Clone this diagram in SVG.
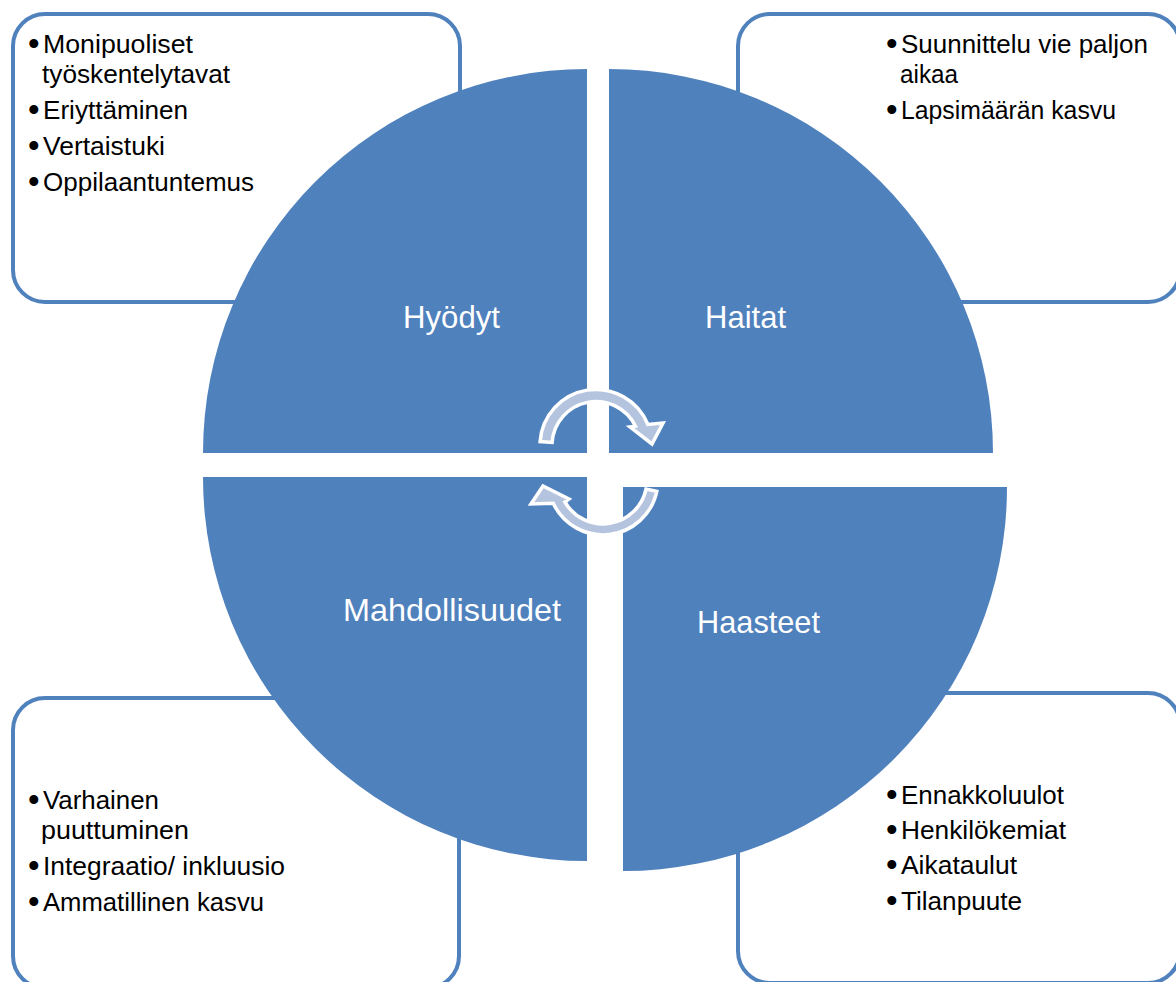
<svg xmlns="http://www.w3.org/2000/svg" width="1176" height="982" viewBox="0 0 1176 982">
<style>
.box{fill:#fff;stroke:#4F81BD;stroke-width:4}
.wedge{fill:#4F81BD}
.t{font-family:"Liberation Sans",Arial,sans-serif;font-size:26px;fill:#000}
.b{font-size:33px}
.h{font-family:"Liberation Sans",Arial,sans-serif;font-size:32px;fill:#fff}
.arr{fill:#B4C4DE;stroke:#fff;stroke-width:3.5;stroke-linejoin:miter}
</style>
<rect width="1176" height="982" fill="#fff"/>
<g id="box-hyodyt">
<rect class="box" x="13" y="14" width="447" height="288" rx="32"/>
<text class="t"><tspan class="b" x="28" y="55">•</tspan><tspan x="43" y="53" textLength="150" lengthAdjust="spacingAndGlyphs">Monipuoliset</tspan></text>
<text class="t" x="42" y="83" textLength="188" lengthAdjust="spacingAndGlyphs">työskentelytavat</text>
<text class="t"><tspan class="b" x="28" y="121">•</tspan><tspan x="43" y="119" textLength="145" lengthAdjust="spacingAndGlyphs">Eriyttäminen</tspan></text>
<text class="t"><tspan class="b" x="28" y="157">•</tspan><tspan x="43" y="155" textLength="122" lengthAdjust="spacingAndGlyphs">Vertaistuki</tspan></text>
<text class="t"><tspan class="b" x="28" y="193">•</tspan><tspan x="43" y="191" textLength="211" lengthAdjust="spacingAndGlyphs">Oppilaantuntemus</tspan></text>
</g>
<g id="box-haitat">
<rect class="box" x="738" y="14" width="442" height="288" rx="32"/>
<text class="t"><tspan class="b" x="886" y="55">•</tspan><tspan x="901" y="53" textLength="247" lengthAdjust="spacingAndGlyphs">Suunnittelu vie paljon</tspan></text>
<text class="t" x="900" y="83" textLength="58" lengthAdjust="spacingAndGlyphs">aikaa</text>
<text class="t"><tspan class="b" x="886" y="121">•</tspan><tspan x="901" y="119" textLength="215" lengthAdjust="spacingAndGlyphs">Lapsimäärän kasvu</tspan></text>
</g>
<g id="box-mahdollisuudet">
<rect class="box" x="13" y="698" width="446" height="290" rx="32"/>
<text class="t"><tspan class="b" x="28" y="811">•</tspan><tspan x="43" y="809" textLength="116" lengthAdjust="spacingAndGlyphs">Varhainen</tspan></text>
<text class="t" x="41" y="839" textLength="148" lengthAdjust="spacingAndGlyphs">puuttuminen</text>
<text class="t"><tspan class="b" x="28" y="877">•</tspan><tspan x="43" y="875" textLength="242" lengthAdjust="spacingAndGlyphs">Integraatio/ inkluusio</tspan></text>
<text class="t"><tspan class="b" x="28" y="913">•</tspan><tspan x="43" y="911" textLength="221" lengthAdjust="spacingAndGlyphs">Ammatillinen kasvu</tspan></text>
</g>
<g id="box-haasteet">
<rect class="box" x="738" y="693" width="442" height="290" rx="32"/>
<text class="t"><tspan class="b" x="886" y="806">•</tspan><tspan x="901" y="804" textLength="163" lengthAdjust="spacingAndGlyphs">Ennakkoluulot</tspan></text>
<text class="t"><tspan class="b" x="886" y="841">•</tspan><tspan x="901" y="839" textLength="165" lengthAdjust="spacingAndGlyphs">Henkilökemiat</tspan></text>
<text class="t"><tspan class="b" x="886" y="876">•</tspan><tspan x="901" y="874" textLength="116" lengthAdjust="spacingAndGlyphs">Aikataulut</tspan></text>
<text class="t"><tspan class="b" x="886" y="912">•</tspan><tspan x="901" y="910" textLength="121" lengthAdjust="spacingAndGlyphs">Tilanpuute</tspan></text>
</g>
<g id="q-hyodyt">
<path class="wedge" d="M587 453 L203 453 A384 384 0 0 1 587 69 Z"/>
<text class="h" x="403" y="328" textLength="97" lengthAdjust="spacingAndGlyphs">Hyödyt</text>
</g>
<g id="q-haitat">
<path class="wedge" d="M609 453 L609 69 A384 384 0 0 1 993 453 Z"/>
<text class="h" x="705" y="328" textLength="81" lengthAdjust="spacingAndGlyphs">Haitat</text>
</g>
<g id="q-mahdollisuudet">
<path class="wedge" d="M587 477 L587 861 A384 384 0 0 1 203 477 Z"/>
<text class="h" x="343" y="621" textLength="218" lengthAdjust="spacingAndGlyphs">Mahdollisuudet</text>
</g>
<g id="q-haasteet">
<path class="wedge" d="M623 487 L1007 487 A384 384 0 0 1 623 871 Z"/>
<text class="h" x="697" y="633" textLength="123" lengthAdjust="spacingAndGlyphs">Haasteet</text>
</g>
<g id="connectors">
<path class="arr" d="M540.1 441.6 A56 56 0 0 1 647.9 424.5 L663 423 L652 444 L630 427 L635.5 426.2 A44 44 0 0 0 552.1 442.4 Z"/>
<path class="arr" d="M656.8 491.4 A55 55 0 0 1 553.2 503.2 L531 504 L543 486 L569 499 L564.9 502 A44 44 0 0 0 646 489.1 Z"/>
</g>
</svg>
